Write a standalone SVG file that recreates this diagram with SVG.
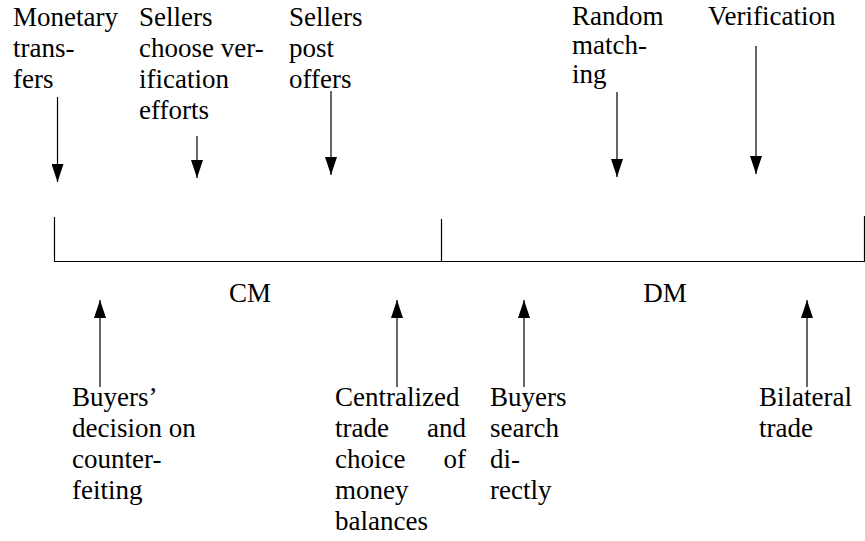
<svg xmlns="http://www.w3.org/2000/svg" width="865" height="541" viewBox="0 0 865 541">
<style>
text{font-family:"Liberation Serif","DejaVu Serif","Times New Roman",serif;font-size:27px;fill:#000}
.ln{stroke:#000;stroke-width:1.2;fill:none}
.ar{stroke:#000;stroke-width:1.2;fill:none;marker-end:url(#ah)}
</style>
<defs>
<marker id="ah" viewBox="0 0 18 12" refX="18" refY="6" markerWidth="18" markerHeight="12" markerUnits="userSpaceOnUse" orient="auto">
<path d="M0,0 L18,6 L0,12 z" fill="#000"/>
</marker>
</defs>
<rect width="865" height="541" fill="#fff"/>
<g id="timeline">
<path class="ln" d="M54.5,217 V261.5 H864.5 V216 M441.5,219 V261.5"/>
<text x="250" y="302" text-anchor="middle">CM</text>
<text x="665" y="302" text-anchor="middle">DM</text>
</g>
<g id="connectors">
<line class="ar" x1="57.5" y1="97" x2="57.5" y2="182"/>
<line class="ar" x1="197" y1="136" x2="197" y2="178"/>
<line class="ar" x1="331" y1="91" x2="331" y2="175"/>
<line class="ar" x1="617" y1="92" x2="617" y2="177"/>
<line class="ar" x1="756" y1="46" x2="756" y2="174"/>
<line class="ar" x1="100" y1="387" x2="100" y2="300"/>
<line class="ar" x1="397" y1="387" x2="397" y2="300"/>
<line class="ar" x1="524" y1="387" x2="524" y2="300"/>
<line class="ar" x1="807" y1="387" x2="807" y2="300"/>
</g>
<g id="monetary">
<text x="13" y="26">Monetary</text>
<text x="13" y="57">trans-</text>
<text x="13" y="88">fers</text>
</g>
<g id="sellers-choose">
<text x="139" y="26">Sellers</text>
<text x="139" y="57">choose ver-</text>
<text x="139" y="88">ification</text>
<text x="139" y="119">efforts</text>
</g>
<g id="sellers-post">
<text x="289" y="26">Sellers</text>
<text x="289" y="57">post</text>
<text x="289" y="88">offers</text>
</g>
<g id="random">
<text x="572" y="25">Random</text>
<text x="572" y="54">match-</text>
<text x="572" y="83">ing</text>
</g>
<g id="verification">
<text x="708" y="25">Verification</text>
</g>
<g id="buyers-decision">
<text x="72" y="406">Buyers’</text>
<text x="72" y="437">decision on</text>
<text x="72" y="468">counter-</text>
<text x="72" y="499">feiting</text>
</g>
<g id="centralized">
<text x="335" y="406">Centralized</text>
<text x="335" y="437">trade</text>
<text x="466" y="437" text-anchor="end">and</text>
<text x="335" y="468">choice</text>
<text x="466" y="468" text-anchor="end">of</text>
<text x="335" y="499">money</text>
<text x="335" y="530">balances</text>
</g>
<g id="buyers-search">
<text x="490" y="406">Buyers</text>
<text x="490" y="437">search</text>
<text x="490" y="468">di-</text>
<text x="490" y="499">rectly</text>
</g>
<g id="bilateral">
<text x="759" y="406">Bilateral</text>
<text x="759" y="437">trade</text>
</g>
</svg>
